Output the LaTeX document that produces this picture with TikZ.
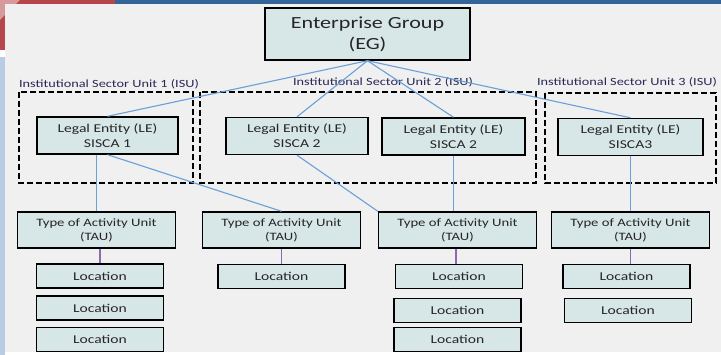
\documentclass[tikz,border=0pt]{standalone}
\usepackage{fontspec}
\setmainfont{Carlito}[FakeStretch=1.3]
\definecolor{panel}{HTML}{F0F0F0}
\definecolor{boxfill}{HTML}{D7E6E7}
\definecolor{redbar}{HTML}{B5474B}
\definecolor{bluebar}{HTML}{336497}
\definecolor{sidebar}{HTML}{B8CCE4}
\definecolor{linkblue}{HTML}{6A9FD8}
\definecolor{linkpurple}{HTML}{8A6AB0}
\definecolor{labelink}{HTML}{2B2856}
\begin{document}
\begin{tikzpicture}[x=1pt, y=-1pt,
    unit/.style={draw=black, line width=1.4pt, fill=boxfill, align=center, inner sep=0pt, text=black!85},
    isubox/.style={draw=black, line width=1.4pt, dash pattern=on 6pt off 3pt},
    isulabel/.style={text=labelink, font=\fontsize{11}{13}\selectfont, inner sep=0pt},
    link/.style={draw=linkblue, line width=1.1pt},
    sublink/.style={draw=linkpurple, line width=1.5pt}]
\useasboundingbox (0,0) rectangle (721,355);
% slide background
\fill[white] (0,0) rectangle (721,355);
\fill[redbar] (0,0)--(115,0)--(115,4)--(5,4)--(5,50)--(0,50)--cycle;
\fill[redbar!55!white] (0,0)--(20,0)--(0,20)--cycle;
\fill[bluebar] (115,0) rectangle (721,4);
\fill[sidebar] (0,57) rectangle (5,355);
\fill[panel] (5,4) rectangle (721,352);

% institutional sector units
\draw[isubox] (19,92) rectangle (193,183);
\draw[isubox] (200,92) rectangle (536,183);
\draw[isubox] (545,93) rectangle (716,183);
\node[isulabel] (isu1) at (109,84) {Institutional Sector Unit 1 (ISU)};
\node[isulabel] (isu2) at (383,82) {Institutional Sector Unit 2 (ISU)};
\node[isulabel] (isu3) at (627,82) {Institutional Sector Unit 3 (ISU)};

% enterprise group
\node[unit, minimum width=205pt, minimum height=52pt, font=\fontsize{17}{21}\selectfont] (EG) at (367.5,34) {Enterprise Group\\(EG)};

% legal entities
\begin{scope}[every node/.append style={unit, minimum height=37pt, font=\fontsize{12}{15}\selectfont}]
\node[minimum width=141pt] (LE1) at (107.5,135.5) {Legal Entity (LE)\\SISCA 1};
\node[minimum width=142pt] (LE2a) at (297,136) {Legal Entity (LE)\\SISCA 2};
\node[minimum width=143pt] (LE2b) at (453.5,136.5) {Legal Entity (LE)\\SISCA 2};
\node[minimum width=145pt] (LE3) at (630.5,137) {Legal Entity (LE)\\SISCA3};
\end{scope}

% type of activity units
\foreach \name/\x in {TAU1/96.5, TAU2/281.5, TAU3/457.5, TAU4/630.5}
{
    \node[unit, minimum width=158pt, minimum height=36pt, font=\fontsize{11.3}{14}\selectfont] (\name) at (\x,230) {Type of Activity Unit\\(TAU)};
}

% locations
\foreach \name/\x/\y in {L11/100/276, L12/100/308, L13/100/339.5, L21/281.5/276.5, L31/459/276.5, L32/457.5/310.5, L33/457.5/339.5, L41/626.5/276.5, L42/628/310.5}
{
    \node[unit, minimum width=127pt, minimum height=24pt, font=\fontsize{12}{14}\selectfont] (\name) at (\x,\y) {Location};
}

% connectors
\foreach \le in {LE1, LE2a, LE2b, LE3}
{
    \draw[link] (EG.south) -- (\le.north);
}
\draw[link] (LE1.south -| TAU1.north) -- (TAU1.north);
\draw[link] (LE1.south) -- (TAU2.north);
\draw[link] (LE2a.south) -- (TAU3.north west);
\draw[link] (LE2b.south) -- (LE2b.south |- TAU3.north);
\draw[link] (LE3.south) -- (TAU4.north);

\draw[sublink] (TAU1.south -| L11.north) -- (L11.north);
\draw[sublink] (TAU2.south) -- (L21.north);
\draw[sublink] (TAU3.south -| 456,0) -- (L31.north -| 456,0);
\draw[sublink] (TAU4.south) -- (TAU4.south |- L41.north);
\end{tikzpicture}
\end{document}
